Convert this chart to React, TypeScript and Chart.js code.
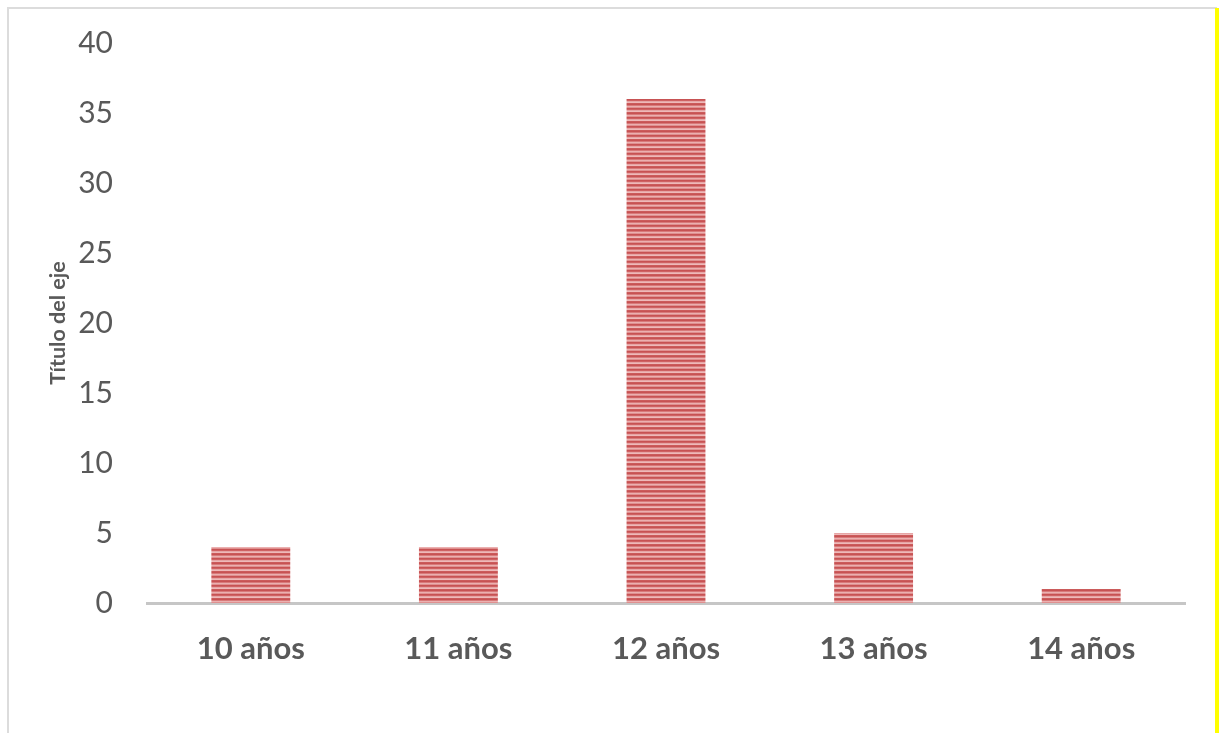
import React, { useEffect, useRef } from "react";
import { Chart, registerables } from "chart.js";

Chart.register(...registerables);

const categories = ["10 años", "11 años", "12 años", "13 años", "14 años"];
const counts = [4, 4, 36, 5, 1];
const yTicks = [0, 5, 10, 15, 20, 25, 30, 35, 40];
const yTitle = "Título del eje";

const W = 1222;
const H = 733;

// Horizontal pinstripe fill for the bars
function makeStripePattern(): CanvasPattern | string {
  const c = document.createElement("canvas");
  c.width = 4;
  c.height = 9;
  const g = c.getContext("2d");
  if (!g) return "#c0504d";
  const rows = ["#c75253", "#cf6263", "#e6a5a5", "#eeb9b9", "#cb5b5b", "#c75253", "#d87a7a", "#ebb0b0", "#df9090"];
  rows.forEach((col, i) => {
    g.fillStyle = col;
    g.fillRect(0, i, 4, 1);
  });
  const p = g.createPattern(c, "repeat");
  return p || "#c0504d";
}

export default function App() {
  const ref = useRef<HTMLCanvasElement | null>(null);

  useEffect(() => {
    if (!ref.current) return;
    const chart = new Chart(ref.current, {
      type: "bar",
      data: {
        labels: categories,
        datasets: [
          {
            data: counts,
            backgroundColor: makeStripePattern() as any,
            borderWidth: 0,
            categoryPercentage: 1,
            barPercentage: 0.38,
          },
        ],
      },
      options: {
        animation: false,
        responsive: false,
        layout: { padding: { top: 43, right: W - 1185, left: 0, bottom: 0 } },
        plugins: { legend: { display: false }, tooltip: { enabled: false } },
        scales: {
          x: {
            grid: { display: false, drawTicks: false },
            border: { display: true, color: "#c6c6c6", width: 3 },
            ticks: {
              color: "#595959",
              font: { family: "Lato", size: 31, weight: "bold" },
              padding: 27,
            },
            afterFit: (axis: any) => {
              axis.height = H - 603;
            },
          },
          y: {
            min: 0,
            max: 40,
            grid: { display: false, drawTicks: false },
            border: { display: false },
            afterBuildTicks: (axis: any) => {
              axis.ticks = yTicks.map((v) => ({ value: v }));
            },
            ticks: {
              color: "#595959",
              font: { family: "Lato", size: 30 },
              padding: 34,
            },
            title: {
              display: true,
              text: yTitle,
              color: "#595959",
              font: { family: "Lato", size: 21.5, weight: "bold" },
              padding: { top: 45, bottom: 0 },
            },
            afterFit: (axis: any) => {
              // fixed gutter; the top/bottom labels fit inside the layout padding
              axis.width = 147;
              axis.paddingTop = 0;
              axis.paddingBottom = 0;
            },
          },
        },
      },
    });
    return () => chart.destroy();
  }, []);

  return (
    <div style={{ position: "absolute", left: 0, top: 0, width: W, height: H, background: "#fff", overflow: "hidden" }}>
      <div
        style={{
          position: "absolute",
          left: 7,
          top: 7,
          width: 1206,
          height: H,
          borderLeft: "2px solid #dcdcdc",
          borderTop: "2px solid #dcdcdc",
          borderRight: "2px solid #dcdcdc",
        }}
      />
      <div style={{ position: "absolute", left: 1215, top: 8, width: 4, height: H, background: "#ffff00" }} />
      <canvas ref={ref} width={W} height={H} style={{ position: "absolute", left: 0, top: 0, width: W, height: H }} />
    </div>
  );
}
